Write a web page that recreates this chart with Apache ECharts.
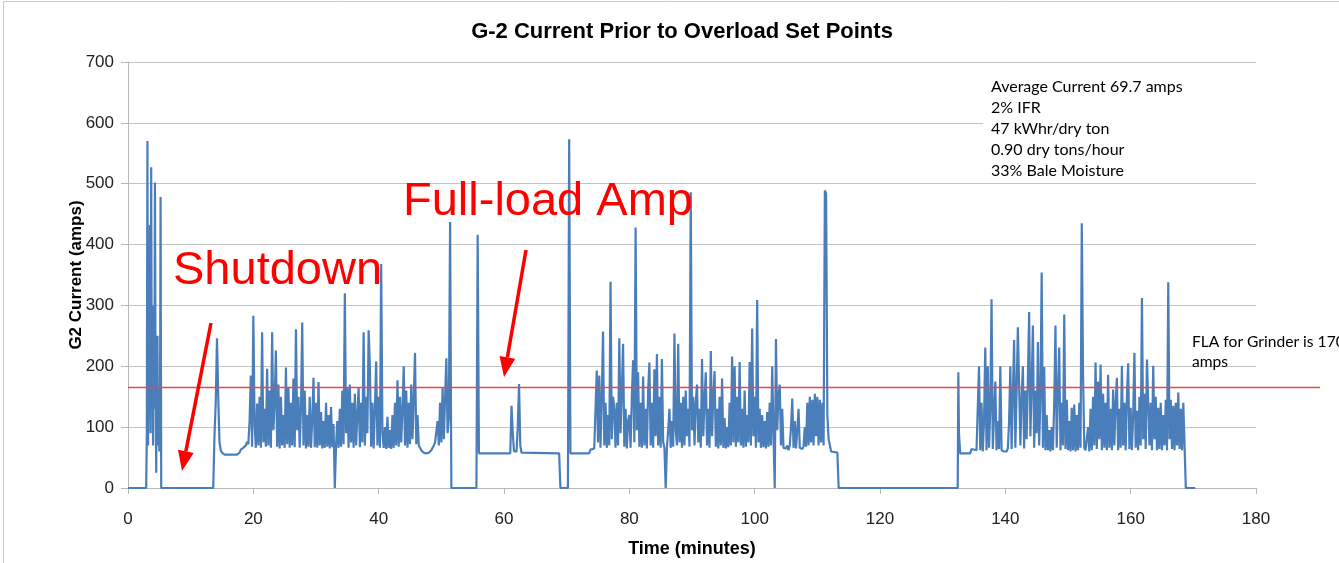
<!DOCTYPE html>
<html>
<head>
<meta charset="utf-8">
<script src="https://cdn.jsdelivr.net/npm/echarts@6/dist/echarts.min.js"></script>
<style>
html,body{margin:0;padding:0;background:#fff;}
#chart{width:1339px;height:563px;}
</style>
</head>
<body>
<div id="chart"></div>
<script>
// ---------- DATA ----------
const xTicks = [0, 20, 40, 60, 80, 100, 120, 140, 160, 180];
const yTicks = [0, 100, 200, 300, 400, 500, 600, 700];
const FLA_AMPS = 170;
const FLA_LINE_END_MIN = 190.2;

// irregular stretches as [minute, amps]
const idleStart = [[0, 0], [2.9, 0]];
const burstT0 = 3.0, burstDt = 0.1;
const burstAmps = [85, 570, 70, 230, 120, 432, 90, 527, 150, 235, 70, 300, 130, 502, 180, 25, 220, 250, 70, 160, 60, 120, 478];
const shutdown1 = [[5.3, 0], [13.6, 0]];
const restartT0 = 13.8, restartDt = 0.2;
const restartAmps = [85, 140, 246, 150, 75, 62, 58, 56, 55, 55, 55, 55, 55, 55, 55, 55, 55, 55, 55, 56, 58, 63, 62, 66, 64, 70, 76];

const SAMPLE_DT = 0.2;
const run1T0 = 19.2;
const run1Amps = [72,110,185,68,283,105,66,139,70,150, 66,256,75,130,68,196,70,160,66,256, 95,140,226,68,170,65,150,70,120,66, 198,72,165,66,140,70,180,67,261,95, 150,66,130,272,70,160,65,120,68,150, 66,110,181,67,140,66,174,70,125,65, 110,66,140,68,120,65,133,67,105,0, 70,110,66,130,68,160,72,320,90,165, 66,170,75,140,66,155,70,120,165,67, 140,75,256,70,150,90,259,198,68,140, 65,130,208,70,150,66,368,90,66,100, 64,117,66,95,64,120,66,140,70,177, 68,150,75,130,200,70,160,66,140,72, 170,80,150,222,72,120,70,66,62,60, 58,57,57,58,58,60,62,65,70,75, 72,110,70,140,75,165,80,150,213,90, 115,437];

const midStretch = [[51.6,0],[55.6,0],[55.8,416],[56.0,57],[61.0,57],[61.2,135],[61.4,90],[61.6,60],[62.0,60],[62.2,100],[62.4,171],[62.6,70],[62.8,58],[68.8,57],[69.0,0],[70.2,0],[70.4,573],[70.6,57],[73.6,57],[73.8,63],[74.4,65]];

const run2T0 = 74.6;
const run2Amps = [68,193,75,185,66,150,257,70,140,66, 120,70,339,80,150,130,66,140,70,246, 90,160,237,68,130,65,110,120,66,150, 210,75,428,95,190,68,140,66,183,70, 130,65,160,206,70,140,66,195,85,220, 70,150,66,212,75,66,0,66,95,130, 66,110,68,254,95,70,237,75,140,66, 150,70,160,85,130,68,486,95,150,70, 140,170,75,130,66,212,85,145,190,70, 130,66,225,85,150,192,68,130,65,150, 70,180,66,115,65,100,67,140,70,216, 75,200,68,150,75,207,70,130,66,160, 68,120,75,207,70,262,85,150,66,309, 75,130,66,120,67,110,65,125,68,140, 70,200,90,0,245,95,150,170,70,130, 66,68,65,70,62,70,100,147,66,110, 65,95,130,66,65,64,68,100,68,140, 70,150,75,145,70,155,85,150,70,145, 75,140,70,489,484,120];

const lateStretch = [[111.8,80],[112.0,70],[112.2,60],[113.2,58],[113.4,0],[132.4,0],[132.5,190],[132.6,90],[132.8,57],[134.4,57],[134.6,64],[134.8,62],[135.4,62]];

const run3T0 = 135.6;
const run3Amps = [62,200,62,140,60,110,231,62,200,66, 130,310,64,120,175,62,110,64,200,62, 62,60,62,60,65,110,200,64,150,243, 66,160,264,264,70,150,200,65,160,80, 180,289,85,170,267,66,160,90,240,70, 150,354,66,199,62,120,62,95,60,100, 62,140,267,66,160,231,62,140,70,285, 64,145,62,110,60,132,62,137,60,120, 62,140,66,435,186,66,62,60,100,60, 130,62,150,70,206,64,175,80,203,62, 155,66,140,62,186,66,130,62,162,70, 140,181,62,130,66,201,70,140,62,150, 205,64,132,62,120,222,66,127,62,150, 70,312,80,155,64,211,211,70,140,62, 201,80,150,62,132,64,140,62,120,70, 145,62,338,80,145,64,135,62,140,70, 157,64,130,62,140,138];

const shutdownEnd = [[168.8,0],[170.3,0]];

const statsLines = ['Average Current 69.7 amps', '2% IFR', '47 kWhr/dry ton', '0.90 dry tons/hour', '33% Bale Moisture'];
const flaNote = ['FLA for Grinder is 170', 'amps'];

// ---------- BUILD ----------
function sampled(t0, dt, amps) {
  return amps.map((a, i) => [Math.round((t0 + i * dt) * 100) / 100, a]);
}
const currentData = [].concat(
  idleStart,
  sampled(burstT0, burstDt, burstAmps),
  shutdown1,
  sampled(restartT0, restartDt, restartAmps),
  sampled(run1T0, SAMPLE_DT, run1Amps),
  midStretch,
  sampled(run2T0, SAMPLE_DT, run2Amps),
  lateStretch,
  sampled(run3T0, SAMPLE_DT, run3Amps),
  shutdownEnd
);

const chart = echarts.init(document.getElementById('chart'), null, {renderer: 'canvas'});
const tickFont = "'Liberation Sans', Arial, sans-serif";
const bodyFont = "Lato, 'Open Sans', sans-serif";

function arrow(x1, y1, x2, y2) {
  const dx = x2 - x1, dy = y2 - y1, L = Math.hypot(dx, dy);
  const ux = dx / L, uy = dy / L, px = -uy, py = ux;
  const hl = 20, hw = 8;
  const bx = x2 - ux * hl, by = y2 - uy * hl;
  return [
    {type: 'line', shape: {x1: x1, y1: y1, x2: bx, y2: by}, style: {stroke: '#ff0000', lineWidth: 3.5}, z: 20},
    {type: 'polygon', shape: {points: [[x2, y2], [bx + px * hw, by + py * hw], [bx - px * hw, by - py * hw]]}, style: {fill: '#ff0000'}, z: 20}
  ];
}

const gridBox = {top: 62, bottom: 71, left: 128};
const option = {
  animation: false,
  grid: [
    Object.assign({right: 83}, gridBox),
    Object.assign({right: 19}, gridBox)
  ],
  xAxis: [{
    type: 'value', min: 0, max: 180, interval: 20, gridIndex: 0,
    name: 'Time (minutes)', nameLocation: 'middle', nameGap: 52, nameMoveOverlap: false,
    nameTextStyle: {fontFamily: tickFont, fontWeight: 'bold', fontSize: 18, color: '#000'},
    axisLine: {show: true, lineStyle: {color: '#b8b8b8', width: 1}},
    axisTick: {show: true, length: 6, lineStyle: {color: '#b8b8b8'}},
    axisLabel: {fontFamily: tickFont, fontSize: 17, color: '#222', margin: 23},
    splitLine: {show: false}
  }, {
    type: 'value', min: 0, max: FLA_LINE_END_MIN, gridIndex: 1, show: false
  }],
  yAxis: [{
    type: 'value', min: 0, max: 700, interval: 100, gridIndex: 0,
    name: 'G2 Current (amps)', nameLocation: 'middle', nameGap: 43, nameMoveOverlap: false,
    nameTextStyle: {fontFamily: tickFont, fontWeight: 'bold', fontSize: 17, color: '#000'},
    axisLine: {show: true, lineStyle: {color: '#b8b8b8', width: 1}},
    axisTick: {show: true, length: 7, lineStyle: {color: '#b8b8b8'}},
    axisLabel: {fontFamily: tickFont, fontSize: 17, color: '#222', margin: 14},
    splitLine: {show: true, lineStyle: {color: '#c4c4c4', width: 1}}
  }, {
    type: 'value', min: 0, max: 700, gridIndex: 1, show: false
  }],
  series: [
    {
      name: 'G2 Current', type: 'line', data: currentData, showSymbol: false, symbol: 'none',
      xAxisIndex: 0, yAxisIndex: 0,
      sampling: null, lineStyle: {color: '#4a7ebb', width: 2.2}, z: 3
    },
    {
      name: 'FLA', type: 'line', data: [[0, FLA_AMPS], [FLA_LINE_END_MIN, FLA_AMPS]],
      xAxisIndex: 1, yAxisIndex: 1,
      showSymbol: false, symbol: 'none', lineStyle: {color: '#e8474a', width: 1.5}, z: 4
    }
  ],
  graphic: [
    {type: 'line', shape: {x1: 3.5, y1: 1.5, x2: 1339, y2: 1.5}, style: {stroke: '#c8c8c8', lineWidth: 1}},
    {type: 'line', shape: {x1: 3.5, y1: 1.5, x2: 3.5, y2: 563}, style: {stroke: '#c8c8c8', lineWidth: 1}},
    {type: 'text', x: 682, y: 32, z: 10, style: {text: 'G-2 Current Prior to Overload Set Points', fontFamily: tickFont, fontWeight: 'bold', fontSize: 22, fill: '#000', textAlign: 'center', textVerticalAlign: 'middle'}},
    {type: 'rect', shape: {x: 983, y: 74, width: 300, height: 104}, style: {fill: '#fff'}, z: 9},
    {type: 'text', x: 991, y: 76, z: 10, style: {text: statsLines.join('\n'), fontFamily: bodyFont, fontSize: 16, lineHeight: 21, fill: '#000'}},
    {type: 'text', x: 1192, y: 332, z: 10, style: {text: flaNote.join('\n'), fontFamily: bodyFont, fontSize: 15.6, lineHeight: 20, fill: '#000'}},
    {type: 'text', x: 173, y: 295, z: 20, style: {text: 'Shutdown', fontFamily: "'Liberation Sans', Arial, sans-serif", fontSize: 47, fill: '#ff0000', textVerticalAlign: 'bottom'}},
    {type: 'text', x: 403, y: 226, z: 20, style: {text: 'Full-load Amp', fontFamily: "'Liberation Sans', Arial, sans-serif", fontSize: 47, fill: '#ff0000', textVerticalAlign: 'bottom'}}
  ].concat(arrow(211, 323, 182, 471), arrow(526, 250, 504, 377))
};
chart.setOption(option);
</script>
</body>
</html>
